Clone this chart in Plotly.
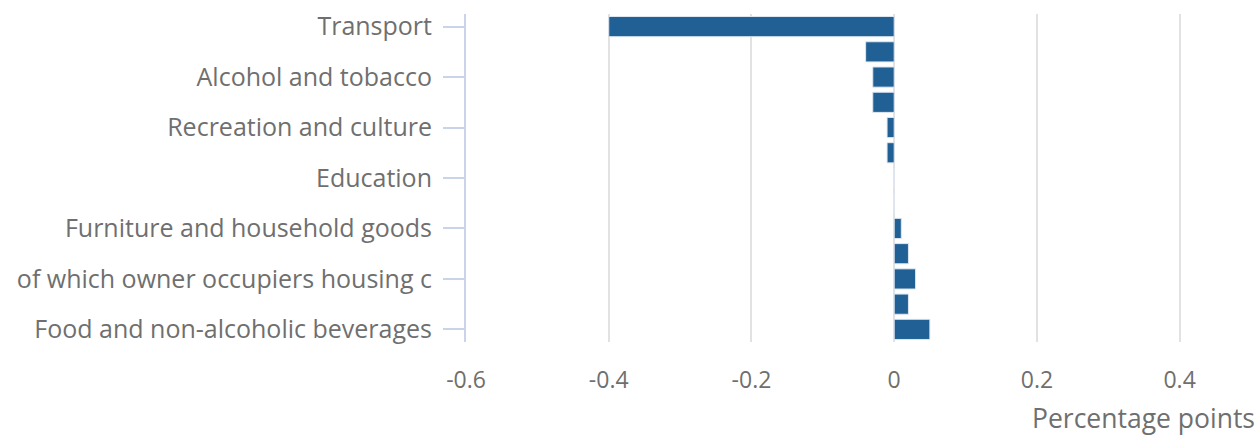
import plotly.graph_objects as go

categories = [
    "Transport",
    "Clothing and footwear",
    "Alcohol and tobacco",
    "Miscellaneous goods and services",
    "Recreation and culture",
    "Communication",
    "Education",
    "Health",
    "Furniture and household goods",
    "Restaurants and hotels",
    "of which owner occupiers housing costs",
    "Housing and household services",
    "Food and non-alcoholic beverages",
]
values = [-0.40, -0.04, -0.03, -0.03, -0.01, -0.01, 0.0, 0.0, 0.01, 0.02, 0.03, 0.02, 0.05]
shown_labels = {
    "Transport": "Transport",
    "Alcohol and tobacco": "Alcohol and tobacco",
    "Recreation and culture": "Recreation and culture",
    "Education": "Education",
    "Furniture and household goods": "Furniture and household goods",
    "of which owner occupiers housing costs": "of which owner occupiers housing c",
    "Food and non-alcoholic beverages": "Food and non-alcoholic beverages",
}
x_tickvals = [-0.6, -0.4, -0.2, 0, 0.2, 0.4]
x_ticktext = ["-0.6", "-0.4", "-0.2", "0", "0.2", "0.4"]
axis_title = "Percentage points"

font_family = "Open Sans"
text_color = "#6f6f6f"

fig = go.Figure(
    go.Bar(
        x=values,
        y=categories,
        orientation="h",
        marker=dict(color="#206095", line=dict(color="#dfe6f0", width=1)),
    )
)

tickvals = [c for c in categories if c in shown_labels]
ticktext = [shown_labels[c] for c in tickvals]

fig.update_layout(
    width=1259,
    height=437,
    margin=dict(l=466, r=8, t=14, b=95, autoexpand=False),
    paper_bgcolor="white",
    plot_bgcolor="white",
    bargap=0.2,
    showlegend=False,
    font=dict(family=font_family, size=24, color=text_color),
    xaxis=dict(
        range=[-0.6, 0.5],
        tickvals=x_tickvals,
        ticktext=x_ticktext,
        showgrid=True,
        gridcolor="#e2e2e2",
        gridwidth=2,
        zeroline=False,
        ticks="outside",
        ticklen=17,
        tickcolor="rgba(0,0,0,0)",
        tickfont=dict(size=23, color=text_color),
        automargin=False,
    ),
    yaxis=dict(
        categoryorder="array",
        categoryarray=categories[::-1],
        tickmode="array",
        tickvals=tickvals,
        ticktext=ticktext,
        showline=True,
        linecolor="#c9d4ea",
        linewidth=2,
        ticks="outside",
        ticklen=21,
        tickwidth=2,
        tickcolor="#c9d4ea",
        ticklabelstandoff=6,
        showgrid=False,
        tickfont=dict(size=25, color=text_color),
        automargin=False,
    ),
    annotations=[
        dict(
            text=axis_title,
            xref="paper",
            yref="paper",
            x=1.0,
            y=0,
            xanchor="right",
            yanchor="middle",
            yshift=-76,
            xshift=6,
            showarrow=False,
            font=dict(family=font_family, size=26.5, color=text_color),
        )
    ],
)

fig.write_html(
    "out.html",
    config={"displayModeBar": False},
    post_script="document.body.style.margin='0';document.body.style.overflow='hidden';",
)
